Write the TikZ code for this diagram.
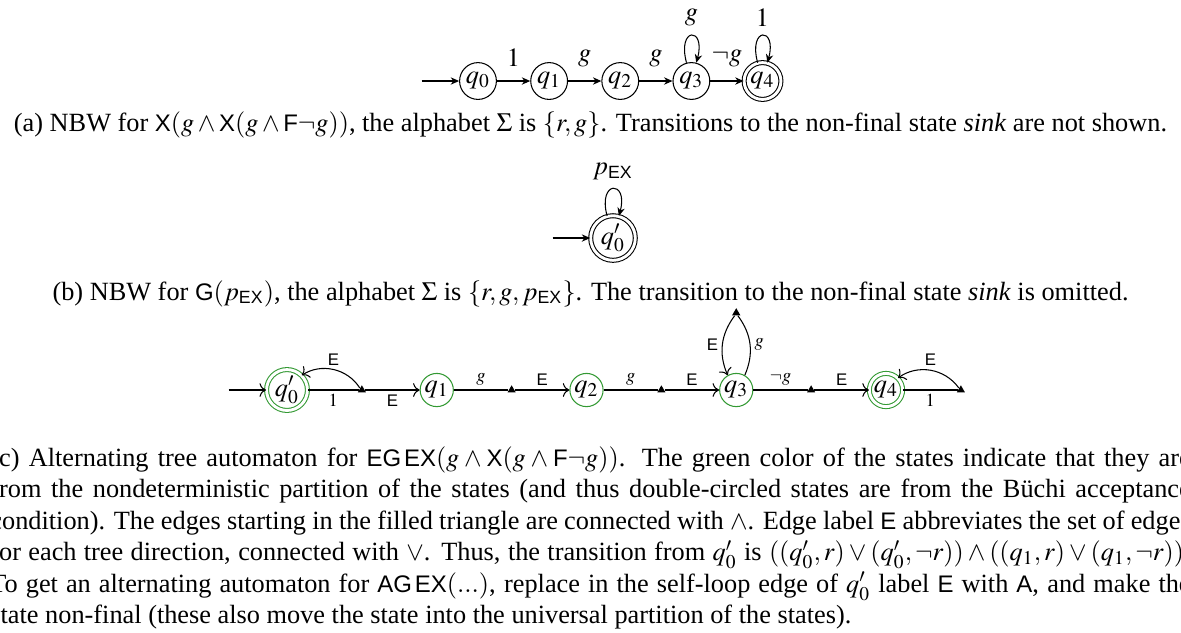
\documentclass[tikz,border=0pt]{standalone}
\usepackage{amsmath}
\usepackage{mathptmx}
\usepackage{fontspec}
\setmainfont{Liberation Serif}
\setsansfont{Liberation Sans}[Scale=0.91]
\usepackage{tikz}
\usetikzlibrary{arrows.meta, positioning, shapes.geometric}
\definecolor{nondet}{HTML}{339933}
\newcommand{\opsf}[1]{\textsf{#1}}

\begin{document}
\begin{tikzpicture}[
    >={Stealth[length=3.2pt, width=2.8pt]},
    st/.style={circle, draw, inner sep=1pt, minimum size=13pt, on grid},
    acc/.style={st, double, double distance=1.1pt},
    gst/.style={st, draw=nondet, inner sep=0.5pt, minimum size=12pt},
    gacc/.style={gst, double, double distance=1.1pt},
    tri/.style={regular polygon, regular polygon sides=3, fill, inner sep=0pt, minimum size=3.6pt, on grid},
    lab/.style={font=\scriptsize, inner sep=1.5pt},
    capt/.style={anchor=base, inner sep=0pt},
  ]
  \useasboundingbox (0,0) rectangle (157.73mm,-84.41mm);
  % ---- (a) NBW
  \node[st] (a0) at (63.84mm,-10.82mm) {$q_0$};
  \node[st, right=9.5mm of a0] (a1) {$q_1$};
  \node[st, right=9.5mm of a1] (a2) {$q_2$};
  \node[st, right=9.5mm of a2] (a3) {$q_3$};
  \node[acc, right=9.5mm of a3] (a4) {$q_4$};
  \coordinate[left=5mm of a0] (a0in);
  \draw[->] (a0in) -- (a0);
  \draw[->] (a0) -- node[above=2pt] {$1$} (a1);
  \draw[->] (a1) -- node[above=2pt] {$g$} (a2);
  \draw[->] (a2) -- node[above=2pt] {$g$} (a3);
  \draw[->] (a3) -- node[above=2pt] {$\neg g$} (a4);
  \draw[->] (a3) to[loop above] node[above] {$g$} (a3);
  \draw[->] (a4) to[loop above] node[above] {$1$} (a4);
  \node[capt] (capa) at (78.87mm,-17.5mm) {(a) NBW for $\opsf{X}(g\wedge\opsf{X}(g\wedge\opsf{F}\neg g))$, the alphabet $\Sigma$ is $\{r,g\}$. Transitions to the non-final state \emph{sink} are not shown.};
  % ---- (b) NBW
  \node[acc] (b0) at (81.87mm,-31.79mm) {$q'_0$};
  \coordinate[left=5mm of b0] (b0in);
  \draw[->] (b0in) -- (b0);
  \draw[->] (b0) to[loop above] node[above] {$p_{\opsf{EX}}$} (b0);
  \node[capt] (capb) at (78.87mm,-40.07mm) {(b) NBW for $\opsf{G}(p_{\opsf{EX}})$, the alphabet $\Sigma$ is $\{r,g,p_{\opsf{EX}}\}$. The transition to the non-final state \emph{sink} is omitted.};
  % ---- (c) alternating tree automaton
  \begin{scope}[>=To]
  \node[gacc] (c0) at (38.33mm,-52.09mm) {$q'_0$};
  \node[tri, right=10mm of c0] (t0) {};
  \node[gst, right=10mm of t0] (c1) {$q_1$};
  \node[tri, right=10mm of c1] (t1) {};
  \node[gst, right=10mm of t1] (c2) {$q_2$};
  \node[tri, right=10mm of c2] (t2) {};
  \node[gst, right=10mm of t2] (c3) {$q_3$};
  \node[tri, above=10.3mm of c3] (tt) {};
  \node[tri, right=10mm of c3] (t3) {};
  \node[gacc, right=10mm of t3] (c4) {$q_4$};
  \node[tri, right=10mm of c4] (t4) {};
  \coordinate[left=5mm of c0] (c0in);
  \draw[->] (c0in) -- (c0);
  \draw (c0) -- node[lab, below] {$1$} (t0);
  \draw[->] (t0) to[bend right=45] node[lab, above] {$\opsf{E}$} (c0);
  \draw[->] (t0) -- node[lab, below] {$\opsf{E}$} (c1);
  \draw (c1) -- node[lab, above] {$g$} (t1);
  \draw[->] (t1) -- node[lab, above] {$\opsf{E}$} (c2);
  \draw (c2) -- node[lab, above] {$g$} (t2);
  \draw[->] (t2) -- node[lab, above] {$\opsf{E}$} (c3);
  \draw (c3) to[bend right=30] node[lab, right] {$g$} (tt);
  \draw[->] (tt) to[bend right=30] node[lab, left] {$\opsf{E}$} (c3);
  \draw (c3) -- node[lab, above] {$\neg g$} (t3);
  \draw[->] (t3) -- node[lab, above] {$\opsf{E}$} (c4);
  \draw (c4) -- node[lab, below] {$1$} (t4);
  \draw[->] (t4) to[bend right=45] node[lab, above] {$\opsf{E}$} (c4);
  \end{scope}
  \node[capt, text width=160.3mm, align=justify] (capc) at (78.87mm,-62.24mm) {(c) Alternating tree automaton for $\opsf{EG}\,\opsf{EX}(g\wedge\opsf{X}(g\wedge\opsf{F}\neg g))$. The green color of the states indicate that they are\linebreak
    from the nondeterministic partition of the states (and thus double-circled states are from the B\"uchi acceptance\linebreak
    condition). The edges starting in the filled triangle are connected with $\wedge$. Edge label $\opsf{E}$ abbreviates the set of edges\linebreak
    for each tree direction, connected with $\vee$. Thus, the transition from $q'_0$ is $((q'_0,r)\vee(q'_0,\neg r))\wedge((q_1,r)\vee(q_1,\neg r))$.\linebreak
    To get an alternating automaton for $\opsf{AG}\,\opsf{EX}(...)$, replace in the self-loop edge of $q'_0$ label $\opsf{E}$ with $\opsf{A}$, and make the\linebreak
    state non-final (these also move the state into the universal partition of the states).};
\end{tikzpicture}
\end{document}
